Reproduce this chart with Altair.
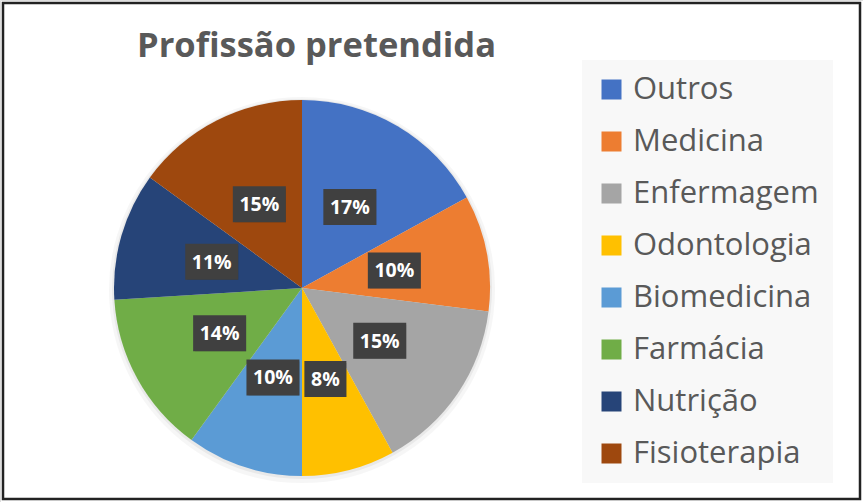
import altair as alt
import pandas as pd

categories = ["Outros", "Medicina", "Enfermagem", "Odontologia",
              "Biomedicina", "Farmácia", "Nutrição", "Fisioterapia"]
values = [17, 10, 15, 8, 10, 14, 11, 15]
colors = ["#4472C4", "#ED7D31", "#A5A5A5", "#FFC000",
          "#5B9BD5", "#70AD47", "#264478", "#9E480E"]
title_text = "Profissão pretendida"

df = pd.DataFrame({"cat": categories, "value": values,
                   "ord": list(range(len(categories)))})

CX, CY, R = 302, 288, 188
LR = 94

base = alt.Chart(df)

color = alt.Color(
    "cat:N",
    scale=alt.Scale(domain=categories, range=colors),
    sort=categories,
    legend=alt.Legend(
        title=None, orient="none", legendX=582, legendY=60, padding=14,
        fillColor="#f8f8f8", symbolType="square", symbolSize=400,
        symbolStrokeWidth=0, symbolOpacity=1, labelFont="Open Sans",
        labelFontSize=31, labelColor="#595959", labelOffset=6,
        rowPadding=20, labelLimit=400,
    ),
)

shadow1 = base.mark_arc(outerRadius=R + 5, color="#000000", opacity=0.035).encode(
    theta=alt.Theta("value:Q", stack=True), order=alt.Order("ord:Q"),
    x=alt.value(CX), y=alt.value(CY + 2))
shadow2 = base.mark_arc(outerRadius=R + 2, color="#000000", opacity=0.05).encode(
    theta=alt.Theta("value:Q", stack=True), order=alt.Order("ord:Q"),
    x=alt.value(CX), y=alt.value(CY + 1))

pie = base.mark_arc(outerRadius=R, strokeWidth=0).encode(
    theta=alt.Theta("value:Q", stack=True),
    color=color,
    order=alt.Order("ord:Q"),
    x=alt.value(CX), y=alt.value(CY),
)

lab = base.transform_window(
    cum="sum(value)", sort=[alt.SortField("ord")], frame=[None, 0]
).transform_joinaggregate(total="sum(value)").transform_calculate(
    mid="2*PI*(datum.cum - datum.value/2)/datum.total",
    lx=f"{CX} + {LR}*sin(datum.mid)",
    ly=f"{CY} - {LR}*cos(datum.mid)",
    label="datum.value + '%'",
    hw="length(datum.label)*5.5 + 10",
    x0="datum.lx - datum.hw", x1="datum.lx + datum.hw",
    y0="datum.ly - 18", y1="datum.ly + 18",
)

X0 = alt.X("x0:Q", scale=None, axis=None)
Y0 = alt.Y("y0:Q", scale=None, axis=None)

box_shadow = lab.mark_rect(color="#000000", opacity=0.22, xOffset=2, yOffset=2).encode(
    x=X0, x2="x1:Q", y=Y0, y2="y1:Q")
box = lab.mark_rect(color="#404040").encode(x=X0, x2="x1:Q", y=Y0, y2="y1:Q")
text = lab.mark_text(font="Open Sans", fontWeight="bold", fontSize=19.5,
                     color="white", align="center", baseline="middle", dy=1).encode(
    x=alt.X("lx:Q", scale=None, axis=None),
    y=alt.Y("ly:Q", scale=None, axis=None),
    text="label:N",
)

frame = alt.Chart(pd.DataFrame({"k": [0]})).mark_rect(
    fillOpacity=0, stroke="#222222", strokeWidth=2.5).encode(
    x=alt.value(3), x2=alt.value(860), y=alt.value(3), y2=alt.value(499))

chart = alt.layer(shadow1, shadow2, pie, box_shadow, box, text, frame).properties(
    width=863, height=502, autosize="none", padding=0,
    title=alt.TitleParams(title_text, anchor="start", dx=137, dy=91, offset=0,
                          frame="group", baseline="alphabetic", font="Open Sans",
                          fontSize=34.5, fontWeight="bold", color="#595959"),
).configure_view(stroke=None).configure(background="white")

chart.save("out.html", embed_options={"renderer": "svg", "actions": False})
